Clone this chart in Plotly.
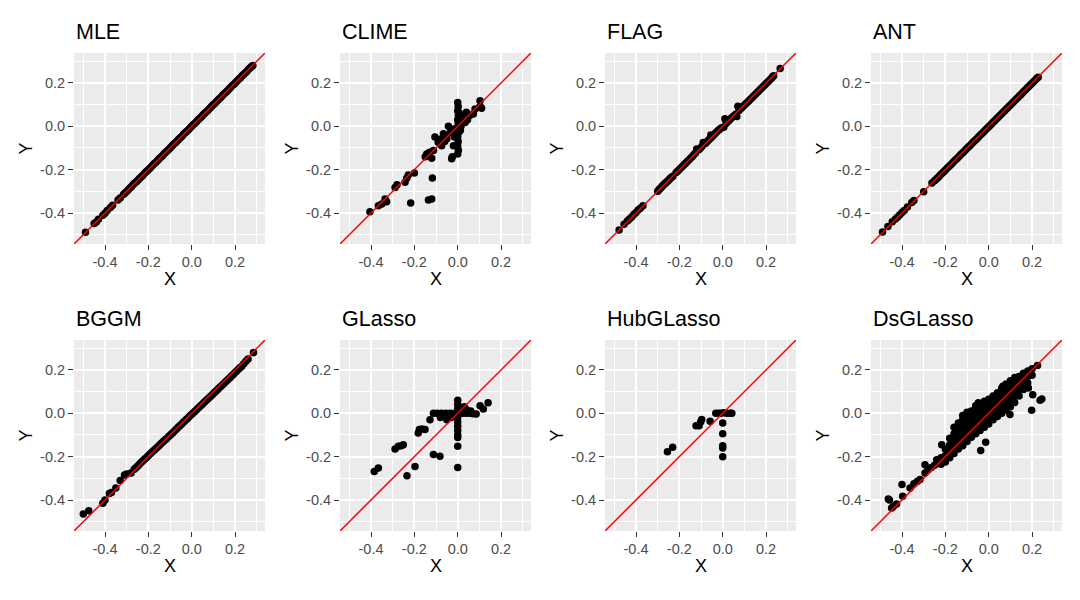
import plotly.graph_objects as go

# panel names, left-to-right, top-to-bottom
METHODS = ["MLE", "CLIME", "FLAG", "ANT", "BGGM", "GLasso", "HubGLasso", "DsGLasso"]

# (X, Y) points
MLE_PTS = [
    (-0.490, -0.489), (-0.450, -0.449), (-0.440, -0.441), (-0.430, -0.429), (-0.410, -0.410),
    (-0.400, -0.401), (-0.390, -0.389), (-0.375, -0.375), (-0.365, -0.364), (-0.340, -0.340),
    (-0.330, -0.331), (-0.315, -0.315), (-0.300, -0.301), (-0.285, -0.285), (-0.270, -0.269),
    (-0.255, -0.256), (-0.240, -0.240), (-0.225, -0.226), (-0.210, -0.210), (-0.195, -0.196),
    (-0.180, -0.180), (-0.165, -0.166), (-0.150, -0.150), (-0.135, -0.136), (-0.120, -0.120),
    (-0.105, -0.106), (-0.090, -0.090), (-0.075, -0.076), (-0.060, -0.060), (-0.045, -0.046),
    (-0.030, -0.030), (-0.015, -0.016), (0.000, 0.000), (0.015, 0.014), (0.030, 0.030),
    (0.045, 0.044), (0.060, 0.060), (0.075, 0.074), (0.090, 0.090), (0.105, 0.104),
    (0.120, 0.120), (0.135, 0.134), (0.150, 0.150), (0.165, 0.164), (0.180, 0.180),
    (0.195, 0.194), (0.210, 0.210), (0.225, 0.224), (0.240, 0.240), (0.255, 0.254),
    (0.270, 0.270), (0.282, 0.280),
    (-0.3075, -0.3075), (-0.2925, -0.2930), (-0.2775, -0.2775), (-0.2625, -0.2620),
    (-0.2475, -0.2480), (-0.2325, -0.2325), (-0.2175, -0.2170), (-0.2025, -0.2030),
    (-0.1875, -0.1875), (-0.1725, -0.1720), (-0.1575, -0.1580), (-0.1425, -0.1425),
    (-0.1275, -0.1270), (-0.1125, -0.1130), (-0.0975, -0.0975), (-0.0825, -0.0820),
    (-0.0675, -0.0680), (-0.0525, -0.0525), (-0.0375, -0.0370), (-0.0225, -0.0230),
    (-0.0075, -0.0075), (0.0075, 0.0080), (0.0225, 0.0220), (0.0375, 0.0375),
    (0.0525, 0.0530), (0.0675, 0.0670), (0.0825, 0.0825), (0.0975, 0.0980),
    (0.1125, 0.1120), (0.1275, 0.1275), (0.1425, 0.1430), (0.1575, 0.1570),
    (0.1725, 0.1725), (0.1875, 0.1880), (0.2025, 0.2020), (0.2175, 0.2175),
    (0.2325, 0.2330), (0.2475, 0.2470), (0.2625, 0.2625), (0.2760, 0.2755),
]
CLIME_PTS = [
    (-0.405, -0.394), (-0.366, -0.366), (-0.350, -0.358), (-0.335, -0.335), (-0.328, -0.348),
    (-0.289, -0.282), (-0.280, -0.270), (-0.243, -0.258), (-0.228, -0.225), (-0.235, -0.240),
    (-0.200, -0.215), (-0.217, -0.354), (-0.135, -0.340), (-0.120, -0.335), (-0.117, -0.238),
    (-0.150, -0.140), (-0.143, -0.128), (-0.120, -0.148), (-0.112, -0.112), (-0.130, -0.120),
    (-0.105, -0.050), (-0.090, -0.074), (-0.080, -0.060), (-0.066, -0.035), (-0.074, -0.090),
    (-0.060, -0.070), (-0.050, -0.058), (-0.043, 0.000), (-0.035, -0.030), (-0.028, -0.150),
    (-0.025, -0.140), (-0.020, -0.090), (-0.020, -0.012), (-0.010, -0.020), (-0.015, -0.050),
    (0.000, 0.110), (0.002, 0.090), (0.000, 0.070), (0.003, 0.050), (0.000, 0.030),
    (0.002, 0.010), (0.000, -0.010), (0.003, -0.030), (0.000, -0.050), (0.002, -0.070),
    (0.000, -0.090), (0.003, -0.110), (0.000, -0.128), (0.010, 0.034), (0.015, 0.000),
    (0.020, 0.040), (0.034, 0.018), (0.030, 0.045), (0.040, 0.065), (0.045, 0.030),
    (0.055, 0.050), (0.072, 0.057), (0.080, 0.080), (0.103, 0.092), (0.110, 0.083),
    (0.103, 0.118), (0.012, -0.020), (0.008, 0.060),
]
FLAG_PTS = [
    (-0.478, -0.478), (-0.455, -0.452), (-0.440, -0.437), (-0.430, -0.428), (-0.420, -0.418),
    (-0.410, -0.407), (-0.400, -0.398), (-0.390, -0.386), (-0.380, -0.378), (-0.368, -0.366),
    (-0.300, -0.300), (-0.290, -0.288), (-0.280, -0.278), (-0.270, -0.267), (-0.260, -0.258),
    (-0.250, -0.249), (-0.240, -0.238), (-0.230, -0.230), (-0.215, -0.213), (-0.200, -0.199),
    (-0.185, -0.184), (-0.170, -0.169), (-0.155, -0.154), (-0.140, -0.139), (-0.125, -0.122),
    (-0.120, -0.105), (-0.110, -0.108), (-0.095, -0.092), (-0.090, -0.075), (-0.080, -0.079),
    (-0.065, -0.063), (-0.055, -0.040), (-0.050, -0.049), (-0.035, -0.033), (-0.020, -0.018),
    (-0.005, -0.007), (0.005, -0.005), (0.010, 0.035), (0.015, 0.013), (0.030, 0.028),
    (0.045, 0.043), (0.060, 0.055), (0.065, 0.045), (0.070, 0.092), (0.075, 0.073),
    (0.090, 0.088), (0.105, 0.103), (0.120, 0.117), (0.135, 0.132), (0.150, 0.147),
    (0.165, 0.162), (0.180, 0.177), (0.195, 0.192), (0.210, 0.207), (0.225, 0.222),
    (0.235, 0.233), (0.265, 0.266),
    (-0.2950, -0.2940), (-0.2850, -0.2830), (-0.2750, -0.2725), (-0.2650, -0.2625),
    (-0.2550, -0.2535), (-0.2450, -0.2435), (-0.2350, -0.2340), (-0.2075, -0.2060),
    (-0.1925, -0.1915), (-0.1775, -0.1765), (-0.1625, -0.1615), (-0.1475, -0.1465),
    (-0.1325, -0.1305), (-0.1025, -0.1000), (-0.0725, -0.0710), (-0.0575, -0.0560),
    (-0.0425, -0.0410), (-0.0275, -0.0255), (-0.0125, -0.0125), (0.0225, 0.0205),
    (0.0375, 0.0355), (0.0525, 0.0490), (0.0825, 0.0805), (0.0975, 0.0955),
    (0.1125, 0.1100), (0.1275, 0.1245), (0.1425, 0.1395), (0.1575, 0.1545),
    (0.1725, 0.1695), (0.1875, 0.1845), (0.2025, 0.1995), (0.2175, 0.2145),
    (0.2300, 0.2280),
]
ANT_PTS = [
    (-0.490, -0.488), (-0.465, -0.462), (-0.445, -0.440), (-0.430, -0.428), (-0.420, -0.418),
    (-0.410, -0.408), (-0.400, -0.398), (-0.390, -0.388), (-0.375, -0.372), (-0.355, -0.352),
    (-0.345, -0.342), (-0.300, -0.302), (-0.262, -0.262), (-0.250, -0.251), (-0.235, -0.237),
    (-0.220, -0.221), (-0.205, -0.207), (-0.190, -0.191), (-0.175, -0.177), (-0.160, -0.161),
    (-0.145, -0.147), (-0.130, -0.131), (-0.115, -0.117), (-0.100, -0.101), (-0.085, -0.087),
    (-0.070, -0.071), (-0.055, -0.057), (-0.040, -0.041), (-0.025, -0.027), (-0.010, -0.011),
    (0.005, 0.003), (0.020, 0.019), (0.035, 0.033), (0.050, 0.049), (0.065, 0.063),
    (0.080, 0.079), (0.095, 0.093), (0.110, 0.109), (0.125, 0.123), (0.140, 0.139),
    (0.155, 0.153), (0.170, 0.169), (0.185, 0.183), (0.200, 0.199), (0.215, 0.213),
    (0.228, 0.226),
    (-0.2425, -0.2440), (-0.2275, -0.2290), (-0.2125, -0.2140), (-0.1975, -0.1990),
    (-0.1825, -0.1840), (-0.1675, -0.1690), (-0.1525, -0.1540), (-0.1375, -0.1390),
    (-0.1225, -0.1240), (-0.1075, -0.1090), (-0.0925, -0.0940), (-0.0775, -0.0790),
    (-0.0625, -0.0640), (-0.0475, -0.0490), (-0.0325, -0.0340), (-0.0175, -0.0190),
    (-0.0025, -0.0040), (0.0125, 0.0110), (0.0275, 0.0260), (0.0425, 0.0410),
    (0.0575, 0.0560), (0.0725, 0.0710), (0.0875, 0.0860), (0.1025, 0.1010),
    (0.1175, 0.1160), (0.1325, 0.1310), (0.1475, 0.1460), (0.1625, 0.1610),
    (0.1775, 0.1760), (0.1925, 0.1910), (0.2075, 0.2060), (0.2215, 0.2200),
]
BGGM_PTS = [
    (-0.500, -0.465), (-0.475, -0.450), (-0.410, -0.415), (-0.400, -0.400), (-0.380, -0.370),
    (-0.370, -0.365), (-0.350, -0.345), (-0.330, -0.310), (-0.310, -0.285), (-0.300, -0.280),
    (-0.280, -0.275), (-0.265, -0.258), (-0.250, -0.244), (-0.235, -0.228), (-0.220, -0.214),
    (-0.205, -0.200), (-0.190, -0.186), (-0.175, -0.172), (-0.160, -0.158), (-0.145, -0.143),
    (-0.130, -0.129), (-0.115, -0.116), (-0.100, -0.101), (-0.085, -0.087), (-0.070, -0.072),
    (-0.055, -0.058), (-0.040, -0.043), (-0.025, -0.029), (-0.010, -0.014), (0.005, 0.000),
    (0.020, 0.014), (0.035, 0.029), (0.050, 0.043), (0.065, 0.058), (0.080, 0.072),
    (0.095, 0.086), (0.110, 0.100), (0.125, 0.115), (0.140, 0.129), (0.155, 0.144),
    (0.170, 0.158), (0.185, 0.173), (0.200, 0.188), (0.215, 0.203), (0.230, 0.216),
    (0.250, 0.240), (0.260, 0.250), (0.285, 0.280),
    (-0.2575, -0.2510), (-0.2425, -0.2360), (-0.2275, -0.2210), (-0.2125, -0.2070),
    (-0.1975, -0.1930), (-0.1825, -0.1790), (-0.1675, -0.1650), (-0.1525, -0.1505),
    (-0.1375, -0.1360), (-0.1225, -0.1225), (-0.1075, -0.1085), (-0.0925, -0.0940),
    (-0.0775, -0.0795), (-0.0625, -0.0650), (-0.0475, -0.0505), (-0.0325, -0.0360),
    (-0.0175, -0.0215), (-0.0025, -0.0070), (0.0125, 0.0070), (0.0275, 0.0215),
    (0.0425, 0.0360), (0.0575, 0.0505), (0.0725, 0.0650), (0.0875, 0.0790),
    (0.1025, 0.0930), (0.1175, 0.1075), (0.1325, 0.1220), (0.1475, 0.1365),
    (0.1625, 0.1510), (0.1775, 0.1655), (0.1925, 0.1805), (0.2075, 0.1955),
    (0.2225, 0.2095), (0.2400, 0.2280),
]
GLASSO_PTS = [
    (-0.385, -0.268), (-0.366, -0.252), (-0.289, -0.165), (-0.274, -0.152), (-0.251, -0.145),
    (-0.260, -0.150), (-0.234, -0.288), (-0.197, -0.245), (-0.182, -0.091), (-0.177, -0.075),
    (-0.151, -0.075), (-0.165, -0.072), (-0.112, -0.190), (-0.082, -0.198), (-0.128, -0.030),
    (-0.112, 0.000), (-0.095, 0.000), (-0.080, -0.020), (-0.075, 0.000), (-0.055, 0.000),
    (-0.050, -0.030), (-0.035, 0.000), (-0.030, -0.020), (-0.015, 0.000), (-0.010, -0.015),
    (0.010, 0.000), (0.025, 0.000), (0.040, 0.000), (0.055, 0.000), (0.070, -0.002),
    (0.085, -0.003), (0.000, 0.060), (0.000, 0.040), (0.000, 0.020), (0.000, -0.020),
    (0.000, -0.040), (0.000, -0.060), (0.000, -0.080), (0.000, -0.100), (0.000, -0.112),
    (0.000, -0.152), (0.000, -0.250), (0.020, 0.025), (0.040, 0.017), (0.060, 0.010),
    (0.103, 0.035), (0.118, 0.020), (0.140, 0.048), (0.015, 0.010), (0.030, 0.030),
]
HUB_PTS = [
    (-0.255, -0.177), (-0.231, -0.157), (-0.123, -0.057), (-0.109, -0.057), (-0.097, -0.029),
    (-0.102, -0.040), (-0.058, -0.037), (-0.032, 0.000), (-0.020, 0.000), (-0.010, 0.000),
    (0.003, 0.003), (0.018, 0.000), (0.034, 0.000), (0.042, 0.000), (0.000, -0.045),
    (0.000, -0.095), (0.000, -0.150), (0.000, -0.160), (0.000, -0.200),
]
DSG_PTS = [
    # lower-left tail and outliers
    (-0.463, -0.395), (-0.458, -0.400), (-0.448, -0.437), (-0.440, -0.430), (-0.425, -0.418),
    (-0.400, -0.328), (-0.397, -0.383), (-0.363, -0.345), (-0.345, -0.325), (-0.330, -0.315),
    (-0.317, -0.306), (-0.294, -0.237), (-0.294, -0.275), (-0.280, -0.262), (-0.265, -0.250),
    (-0.250, -0.240), (-0.240, -0.214), (-0.217, -0.145), (-0.037, -0.172), (-0.014, -0.134),
    (0.098, -0.006), (0.198, 0.014), (0.203, 0.085), (0.237, 0.060), (0.245, 0.066),
    (0.225, 0.220), (0.183, 0.117), (0.175, 0.125), (0.065, 0.125), (-0.048, 0.048),
    # main cloud
    (-0.220, -0.235), (-0.220, -0.205),
    (-0.200, -0.225), (-0.200, -0.195), (-0.200, -0.165),
    (-0.180, -0.205), (-0.180, -0.175), (-0.180, -0.145), (-0.180, -0.115),
    (-0.160, -0.185), (-0.160, -0.155), (-0.160, -0.125), (-0.160, -0.095), (-0.160, -0.065),
    (-0.140, -0.165), (-0.140, -0.135), (-0.140, -0.105), (-0.140, -0.075), (-0.140, -0.045),
    (-0.120, -0.150), (-0.120, -0.120), (-0.120, -0.090), (-0.120, -0.060), (-0.120, -0.030),
    (-0.120, -0.010),
    (-0.100, -0.130), (-0.100, -0.100), (-0.100, -0.070), (-0.100, -0.040), (-0.100, -0.010),
    (-0.100, 0.005),
    (-0.080, -0.110), (-0.080, -0.080), (-0.080, -0.050), (-0.080, -0.020), (-0.080, 0.010),
    (-0.060, -0.095), (-0.060, -0.065), (-0.060, -0.035), (-0.060, -0.005), (-0.060, 0.025),
    (-0.060, 0.035),
    (-0.040, -0.080), (-0.040, -0.050), (-0.040, -0.020), (-0.040, 0.010), (-0.040, 0.040),
    (-0.020, -0.065), (-0.020, -0.035), (-0.020, -0.005), (-0.020, 0.025), (-0.020, 0.055),
    (0.000, -0.050), (0.000, -0.020), (0.000, 0.010), (0.000, 0.040), (0.000, 0.065),
    (0.020, -0.030), (0.020, 0.000), (0.020, 0.030), (0.020, 0.060), (0.020, 0.080),
    (0.040, -0.015), (0.040, 0.015), (0.040, 0.045), (0.040, 0.075), (0.040, 0.095),
    (0.060, 0.000), (0.060, 0.030), (0.060, 0.060), (0.060, 0.090), (0.060, 0.115),
    (0.080, 0.015), (0.080, 0.045), (0.080, 0.075), (0.080, 0.105), (0.080, 0.135),
    (0.100, 0.030), (0.100, 0.060), (0.100, 0.090), (0.100, 0.120), (0.100, 0.150),
    (0.120, 0.050), (0.120, 0.080), (0.120, 0.110), (0.120, 0.140), (0.120, 0.165),
    (0.140, 0.080), (0.140, 0.110), (0.140, 0.140), (0.140, 0.170),
    (0.160, 0.110), (0.160, 0.140), (0.160, 0.170), (0.160, 0.185),
    (0.180, 0.140), (0.180, 0.170), (0.180, 0.195),
    (0.200, 0.175), (0.200, 0.205),
]
ALL_PTS = [MLE_PTS, CLIME_PTS, FLAG_PTS, ANT_PTS, BGGM_PTS, GLASSO_PTS, HUB_PTS, DSG_PTS]

# shared scales
AXIS_RANGE = [-0.543, 0.338]
MAJOR_TICKS = [-0.4, -0.2, 0.0, 0.2]
MAJOR_LABELS = ["-0.4", "-0.2", "0.0", "0.2"]
MINOR_TICKS = [-0.5, -0.3, -0.1, 0.1, 0.3]
DIAG = [-0.7, 0.5]  # y = x reference line

# the page body adds an 8px margin, so everything is laid out 8px up-left
PAGE_OFFSET = 8
W, H = 1080 - PAGE_OFFSET, 600 - PAGE_OFFSET
COL_LEFT = [74 - PAGE_OFFSET, 340 - PAGE_OFFSET, 605 - PAGE_OFFSET, 871 - PAGE_OFFSET]
ROW_TOP = [53 - PAGE_OFFSET, 340 - PAGE_OFFSET]
PANEL = 191
FONT = "Liberation Sans, Arial, sans-serif"

fig = go.Figure()
annotations = []

for i, (name, pts) in enumerate(zip(METHODS, ALL_PTS)):
    r, c = divmod(i, 4)
    suffix = "" if i == 0 else str(i + 1)
    x0 = COL_LEFT[c] / W
    x1 = (COL_LEFT[c] + PANEL) / W
    y1 = 1 - ROW_TOP[r] / H
    y0 = 1 - (ROW_TOP[r] + PANEL) / H

    xs = [p[0] for p in pts]
    ys = [p[1] for p in pts]
    fig.add_trace(go.Scatter(
        x=xs, y=ys, mode="markers", xaxis="x" + suffix, yaxis="y" + suffix,
        marker=dict(color="black", size=7.5, line=dict(width=0)),
        showlegend=False, hoverinfo="x+y",
    ))
    fig.add_trace(go.Scatter(
        x=DIAG, y=DIAG, mode="lines", xaxis="x" + suffix, yaxis="y" + suffix,
        line=dict(color="#FF0000", width=1.5), showlegend=False, hoverinfo="skip",
    ))

    common = dict(
        range=AXIS_RANGE, tickvals=MAJOR_TICKS, ticktext=MAJOR_LABELS,
        showgrid=True, gridcolor="white", gridwidth=1.6, zeroline=False,
        showline=False, ticks="outside", ticklen=5, tickwidth=1.2, tickcolor="#333333",
        tickfont=dict(family=FONT, size=14.5, color="#4D4D4D"),
        minor=dict(tickvals=MINOR_TICKS, showgrid=True, gridcolor="white",
                   gridwidth=0.8, ticks=""),
        fixedrange=True, automargin=False,
    )
    fig.update_layout({
        "xaxis" + suffix: dict(domain=[x0, x1], anchor="y" + suffix, **common),
        "yaxis" + suffix: dict(domain=[y0, y1], anchor="x" + suffix, **common),
    })

    # facet title
    annotations.append(dict(
        text=name, x=x0, y=1 - (ROW_TOP[r] - 21.5) / H, xref="paper", yref="paper",
        xanchor="left", yanchor="middle", showarrow=False,
        font=dict(family=FONT, size=21.5, color="black"),
    ))
    # axis titles
    annotations.append(dict(
        text="X", x=(x0 + x1) / 2, y=1 - (ROW_TOP[r] + PANEL + 35) / H,
        xref="paper", yref="paper", xanchor="center", yanchor="middle",
        showarrow=False, font=dict(family=FONT, size=18, color="black"),
    ))
    annotations.append(dict(
        text="Y", x=(COL_LEFT[c] - 49) / W, y=(y0 + y1) / 2,
        xref="paper", yref="paper", xanchor="center", yanchor="middle",
        textangle=-90, showarrow=False, font=dict(family=FONT, size=18, color="black"),
    ))

fig.update_layout(
    width=W, height=H,
    margin=dict(l=0, r=0, t=0, b=0, autoexpand=False),
    paper_bgcolor="white",
    plot_bgcolor="#EBEBEB",
    annotations=annotations,
    font=dict(family=FONT),
)

fig.write_html("out.html")
